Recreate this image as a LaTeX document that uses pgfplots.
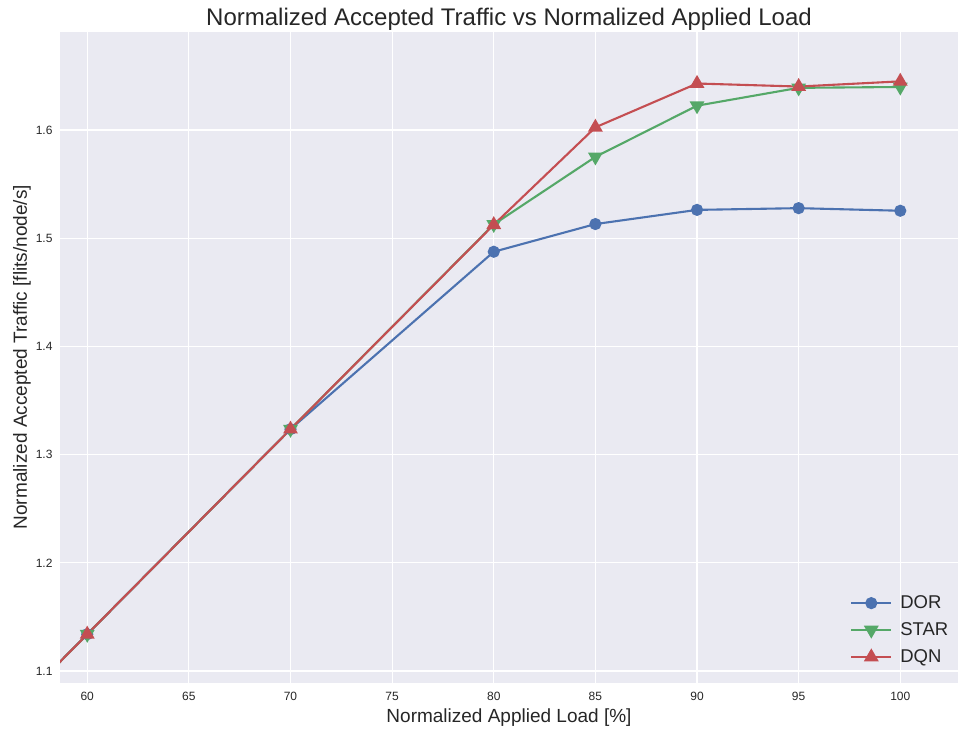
\documentclass[border=0pt]{standalone}
\usepackage{pgfplots}
\pgfplotsset{compat=1.18}
\usepackage{fontspec}
\setmainfont{Liberation Sans}
\definecolor{sbblue}{HTML}{4C72B0}
\definecolor{sbgreen}{HTML}{55A868}
\definecolor{sbred}{HTML}{C44E52}
\definecolor{sbbg}{HTML}{EAEAF2}
\definecolor{txt}{HTML}{262626}
\begin{document}
\begin{tikzpicture}
\begin{axis}[
  width=898pt, height=651pt, scale only axis,
  xmin=58.66, xmax=102.84, ymin=1.0892, ymax=1.6909,
  axis background/.style={fill=sbbg},
  axis line style={draw=none},
  major tick length=0pt,
  xtick={60,65,...,100}, ytick={1.1,1.2,1.3,1.4,1.5,1.6},
  /pgf/number format/assume math mode=true,
  yticklabel style={/pgf/number format/fixed,/pgf/number format/precision=1,/pgf/number format/fixed zerofill, xshift=-4pt},
  ticklabel style={font=\fontsize{12}{14}\selectfont, text=txt},
  xticklabel style={yshift=-6pt},
  grid=major,
  grid style={white, line width=1.1pt},
  title={Normalized Accepted Traffic vs Normalized Applied Load},
  title style={font=\fontsize{24}{28}\selectfont, text=txt, yshift=-8pt},
  xlabel={Normalized Applied Load [\%]},
  ylabel={Normalized Accepted Traffic [flits/node/s]},
  label style={font=\fontsize{19}{22}\selectfont, text=txt},
  xlabel style={yshift=-1pt},
  ylabel style={yshift=-2pt},
  legend style={draw=none, fill=none, at={(0.995,0.022)}, anchor=south east,
    font=\fontsize{18.5}{22}\selectfont, text=txt, row sep=8.5pt, column sep=6pt,
    cells={anchor=west}},
  legend image code/.code={\draw[mark repeat=2,mark phase=2] plot coordinates {(0pt,0pt) (20pt,0pt) (40pt,0pt)};},
  clip=true,
]
\addplot[sbblue, line width=2.1pt, mark=*, mark size=5pt, mark options={solid, fill=sbblue, draw=sbblue}]
  coordinates {(50,0.944) (60,1.134) (70,1.3235) (80,1.4875) (85,1.5131) (90,1.5262) (95,1.5278) (100,1.5254)};
\addlegendentry{DOR}
\addplot[sbgreen, line width=2.1pt, mark=triangle*, mark size=6.5pt, mark options={solid, rotate=180, fill=sbgreen, draw=sbgreen}]
  coordinates {(50,0.944) (60,1.134) (70,1.3235) (80,1.5128) (85,1.5752) (90,1.6225) (95,1.6390) (100,1.6398)};
\addlegendentry{STAR}
\addplot[sbred, line width=2.1pt, mark=triangle*, mark size=6.5pt, mark options={solid, fill=sbred, draw=sbred}]
  coordinates {(50,0.944) (60,1.134) (70,1.3235) (80,1.5125) (85,1.6025) (90,1.6430) (95,1.6402) (100,1.6450)};
\addlegendentry{DQN}
\node[anchor=south west, font=\fontsize{11}{13}\selectfont, text=txt, inner sep=1pt] at (rel axis cs:0,1) {1e8};
\end{axis}
\pgfresetboundingbox
\path ([xshift=-60pt,yshift=-45.3pt]current axis.south west) rectangle ([yshift=31.7pt]current axis.north east);
\end{tikzpicture}
\end{document}
